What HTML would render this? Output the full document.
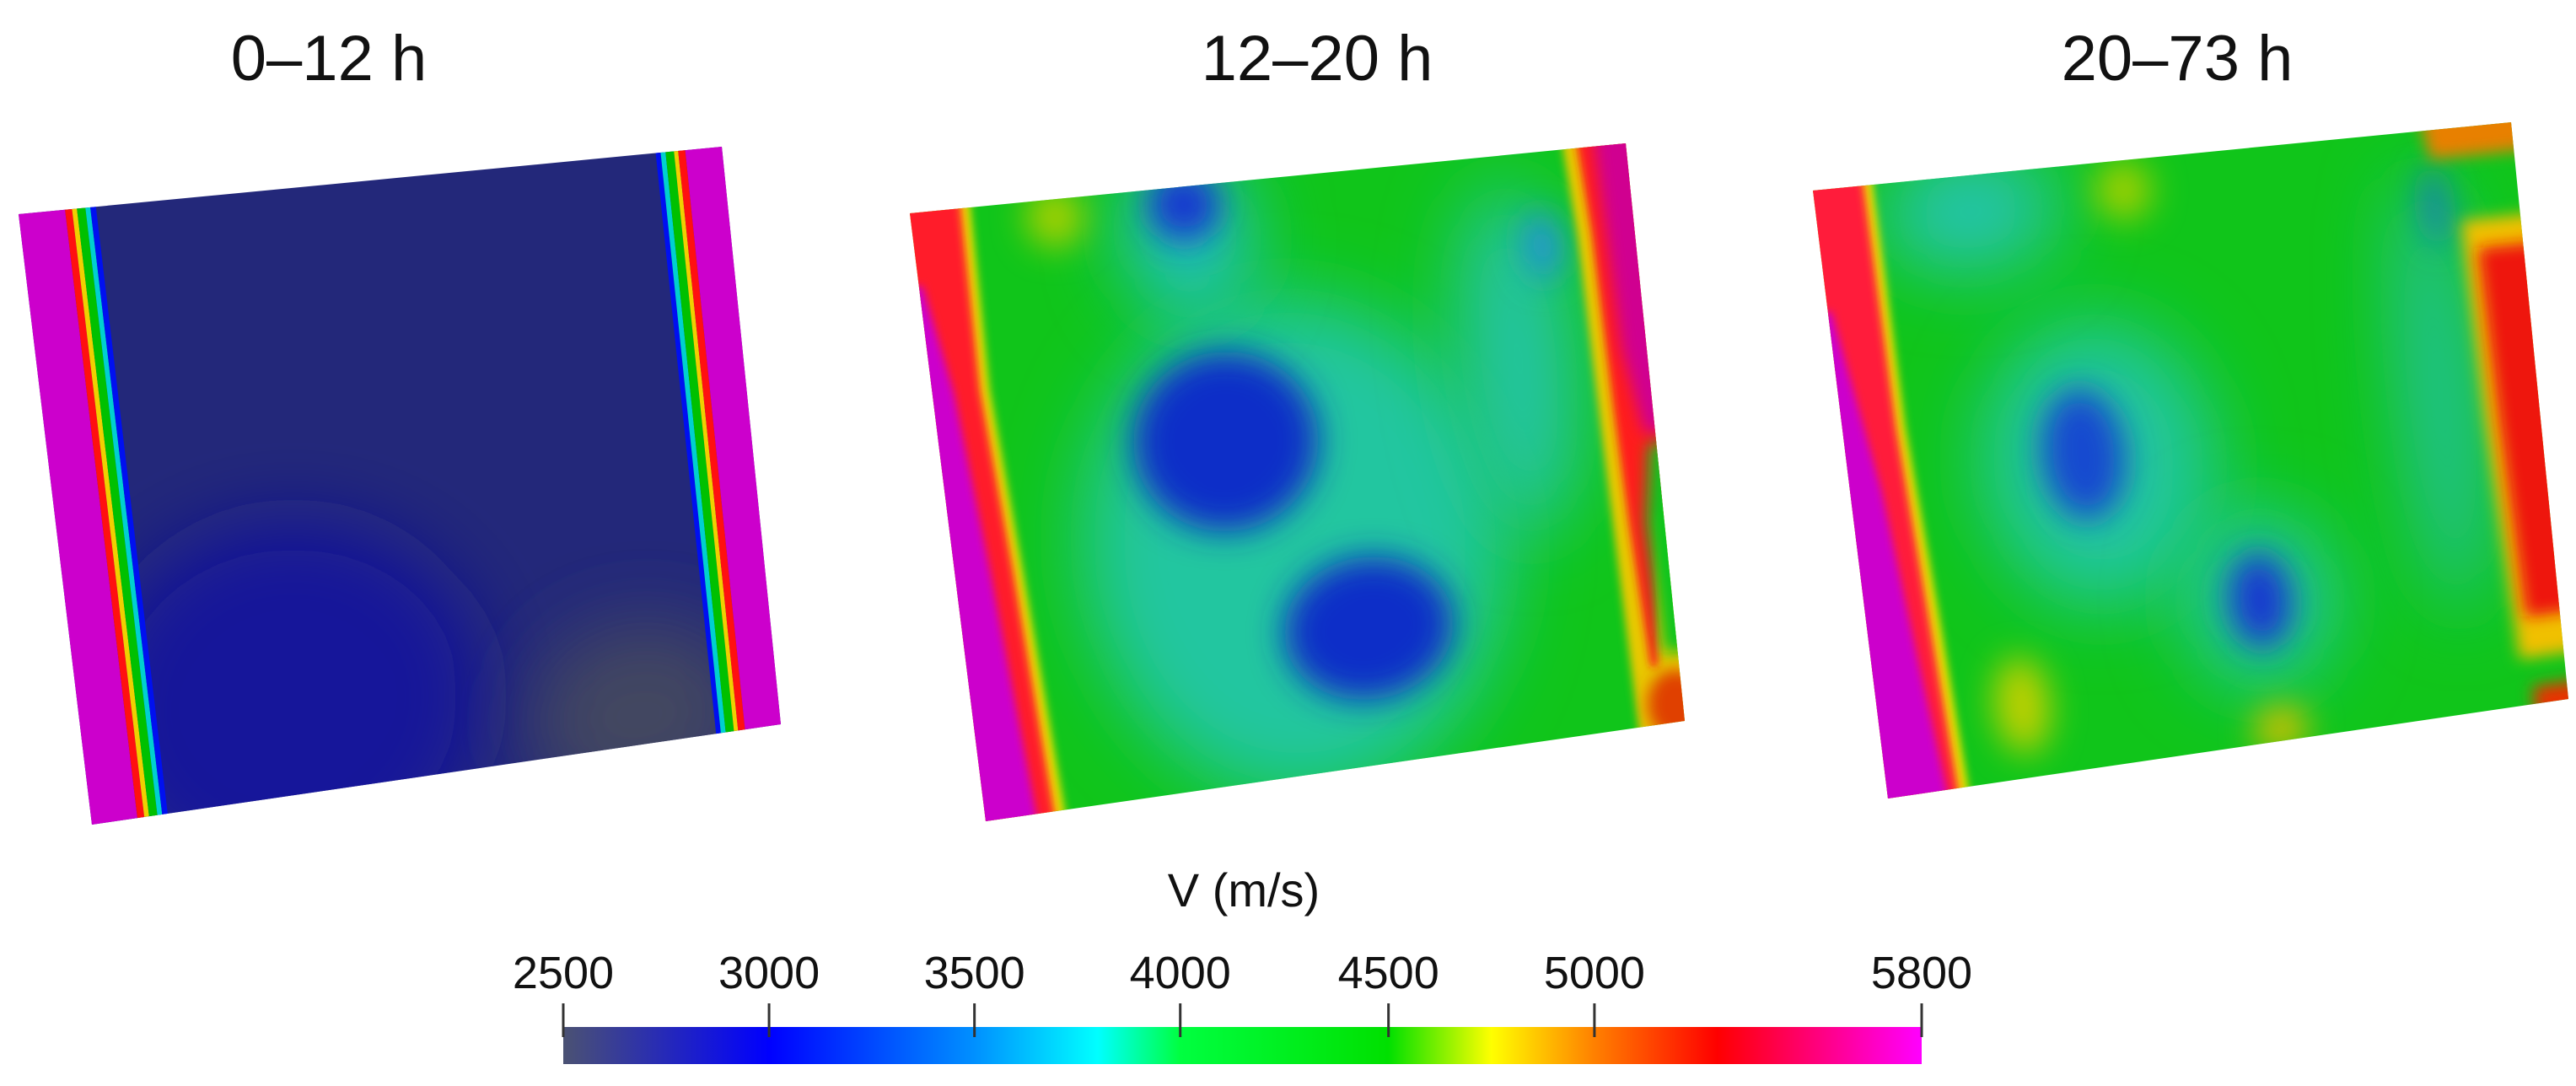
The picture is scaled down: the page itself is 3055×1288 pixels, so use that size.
<!DOCTYPE html>
<html><head><meta charset="utf-8"><style>
html,body{margin:0;padding:0;background:#fff;}
svg{display:block;font-family:"Liberation Sans","DejaVu Sans",sans-serif;}
</style></head><body>
<svg id="fig" width="3055" height="1288" viewBox="0 0 3055 1288">
<defs>
<filter id="bH" filterUnits="userSpaceOnUse" x="-200" y="-200" width="3455" height="1688"><feGaussianBlur stdDeviation="45"/></filter>
<filter id="bM" filterUnits="userSpaceOnUse" x="-200" y="-200" width="3455" height="1688"><feGaussianBlur stdDeviation="20"/></filter>
<filter id="bR" filterUnits="userSpaceOnUse" x="-200" y="-200" width="3455" height="1688"><feGaussianBlur stdDeviation="9"/></filter>
<filter id="bS" filterUnits="userSpaceOnUse" x="-200" y="-200" width="3455" height="1688"><feGaussianBlur stdDeviation="5"/></filter>
<linearGradient id="cbar" x1="0" x2="1" y1="0" y2="0"></linearGradient>
<clipPath id="clip0"><polygon id="q0"/></clipPath>
<clipPath id="clip1"><polygon id="q1"/></clipPath>
<clipPath id="clip2"><polygon id="q2"/></clipPath>
</defs>

<text x="390" y="95" font-size="76" text-anchor="middle" fill="#111">0–12 h</text>
<text x="1562" y="95" font-size="76" text-anchor="middle" fill="#111">12–20 h</text>
<text x="2582" y="95" font-size="76" text-anchor="middle" fill="#111">20–73 h</text>

<g id="p0" clip-path="url(#clip0)"></g>
<g id="p1" clip-path="url(#clip1)"></g>
<g id="p2" clip-path="url(#clip2)"></g>

<g id="cb">
<text x="1475" y="1075" font-size="56" text-anchor="middle" fill="#111">V (m/s)</text>
<rect x="668" y="1218" width="1611" height="44" fill="url(#cbar)"/>
</g>
</svg>
<script>
const tickValues = [2500, 3000, 3500, 4000, 4500, 5000, 5800];
const tickLabels = ["2500", "3000", "3500", "4000", "4500", "5000", "5800"];
const stopValues = [2500, 3000, 3500, 3800, 4000, 4500, 4750, 5000, 5300, 5800];
const stopColors = ["#4b5273", "#0000ff", "#0090ff", "#00ffff", "#00ff40", "#00e000", "#ffff00", "#ff8000", "#ff0000", "#ff00ff"];
const ns = "http://www.w3.org/2000/svg";

/* ---------- panels (bilinear quads) ---------- */
const quads = [
  [[22,254],[856,174],[926,859],[109,978]],
  [[1079,253],[1928,170],[1998,855],[1169,974]],
  [[2150,226],[2978,145],[3046,829],[2239,947]]
];
function mapUV(q, u, v) {
  const x = (1-u)*(1-v)*q[0][0] + u*(1-v)*q[1][0] + u*v*q[2][0] + (1-u)*v*q[3][0];
  const y = (1-u)*(1-v)*q[0][1] + u*(1-v)*q[1][1] + u*v*q[2][1] + (1-u)*v*q[3][1];
  return [x, y];
}
function polyPts(q, pts) {
  return pts.map(p => mapUV(q, p[0], p[1]).map(n => n.toFixed(1)).join(',')).join(' ');
}
function addPoly(g, q, pts, color, filt, name) {
  const p = document.createElementNS(ns, 'polygon');
  p.setAttribute('points', polyPts(q, pts));
  p.setAttribute('fill', color);
  if (filt) p.setAttribute('filter', 'url(#' + filt + ')');
  
  
  g.appendChild(p);
}
function ell(cx, cy, rx, ry) {
  const a = [];
  for (let i = 0; i < 48; i++) { const t = i / 48 * Math.PI * 2; a.push([cx + rx*Math.cos(t), cy + ry*Math.sin(t)]); }
  return a;
}
function strip(rows) {
  const L = rows.map(r => [r[1], r[0]]);
  const R = rows.slice().reverse().map(r => [r[2], r[0]]);
  return L.concat(R);
}
quads.forEach((q, i) => {
  document.getElementById('q' + i).setAttribute('points', polyPts(q, [[0,0],[1,0],[1,1],[0,1]]));
});
const full = [[-0.05,-0.05],[1.05,-0.05],[1.05,1.05],[-0.05,1.05]];

/* Panel 1 */
(function(){
  const g = document.getElementById('p0'), q = quads[0];
  addPoly(g, q, full, '#23287a', null, 'panel-background');
  addPoly(g, q, ell(0.3, 0.85, 0.28, 0.3), '#16199a', 'bH', 'dark-blue-region');
  addPoly(g, q, ell(0.8, 0.95, 0.16, 0.16), '#424660', 'bH', 'grey-region');
  const bands = [[-0.1,0.066,'#cc00cc'],[0.066,0.076,'#ff1010'],[0.076,0.083,'#f0d000'],[0.083,0.095,'#00c000'],[0.095,0.102,'#00d0d0'],[0.102,0.110,'#0010f0'],
                 [0.906,0.913,'#0010f0'],[0.913,0.920,'#00d0d0'],[0.920,0.932,'#00c000'],[0.932,0.938,'#f0d000'],[0.938,0.948,'#ff1010'],[0.948,1.1,'#cc00cc']];
  bands.forEach(b => addPoly(g, q, strip([[-0.05,b[0],b[1]],[1.05,b[0],b[1]]]), b[2], null, 'edge-band'));
})();

/* Panel 2 */
(function(){
  const g = document.getElementById('p1'), q = quads[1];
  addPoly(g, q, full, '#10c51a', null, 'panel-background');
  addPoly(g, q, ell(0.48, 0.62, 0.30, 0.42), '#20c6a0', 'bH', 'cyan-halo');
  addPoly(g, q, ell(0.38, 0.08, 0.09, 0.14), '#20c0c0', 'bH', 'cyan-top');
  addPoly(g, q, ell(0.82, 0.35, 0.08, 0.3), '#28c4a8', 'bH', 'cyan-right');
  addPoly(g, q, ell(0.40, 0.43, 0.13, 0.15), '#0f2ec8', 'bM', 'blue-blob-1');
  addPoly(g, q, ell(0.57, 0.77, 0.12, 0.12), '#0f2ec8', 'bM', 'blue-blob-2');
  addPoly(g, q, ell(0.38, 0.03, 0.05, 0.06), '#1838d0', 'bM', 'blue-top');
  addPoly(g, q, ell(0.20, 0.03, 0.04, 0.05), '#a8d000', 'bM', 'yellow-top');
  addPoly(g, q, ell(0.87, 0.16, 0.025, 0.06), '#2090e0', 'bM', 'blue-right');
  addPoly(g, q, strip([[-0.05,-0.1,0.085],[0.3,-0.1,0.08],[0.6,-0.1,0.095],[1.05,-0.1,0.115]]), '#f0e000', 'bS', 'left-yellow');
  addPoly(g, q, strip([[-0.05,-0.1,0.072],[0.3,-0.1,0.067],[0.6,-0.1,0.082],[1.05,-0.1,0.1]]), '#ff1a2a', 'bS', 'left-red');
  addPoly(g, q, strip([[0.12,-0.1,0.005],[0.3,-0.1,0.03],[0.6,-0.1,0.05],[1.05,-0.1,0.075]]), '#cc00cc', 'bS', 'left-magenta');
  addPoly(g, q, strip([[-0.05,0.91,1.1],[0.15,0.92,1.1],[0.5,0.925,1.1],[1.05,0.935,1.1]]), '#e8c800', 'bS', 'right-yellow');
  addPoly(g, q, strip([[-0.05,0.93,1.1],[0.15,0.94,1.1],[0.45,0.945,1.1],[0.65,0.95,0.99],[0.9,0.96,0.97]]), '#ff1a1a', 'bS', 'right-red');
  addPoly(g, q, strip([[-0.05,0.955,1.1],[0.35,0.965,1.1],[0.5,0.985,1.1]]), '#d00090', 'bR', 'right-magenta');
  addPoly(g, q, strip([[0.52,0.99,1.1],[0.65,0.975,1.1],[0.88,0.98,1.1]]), '#10c51a', 'bR', 'right-green');
  addPoly(g, q, ell(0.99, 0.97, 0.04, 0.06), '#e04000', 'bR', 'right-bottom-red');
})();

/* Panel 3 */
(function(){
  const g = document.getElementById('p2'), q = quads[2];
  addPoly(g, q, full, '#10c51a', null, 'panel-background');
  addPoly(g, q, ell(0.36, 0.50, 0.17, 0.24), '#20c6a0', 'bH', 'cyan-halo-1');
  addPoly(g, q, ell(0.57, 0.76, 0.11, 0.15), '#20c6a0', 'bH', 'cyan-halo-2');
  addPoly(g, q, ell(0.22, 0.06, 0.13, 0.10), '#28c4b0', 'bH', 'cyan-top');
  addPoly(g, q, ell(0.86, 0.45, 0.05, 0.38), '#28c0a8', 'bH', 'cyan-right');
  addPoly(g, q, ell(0.34, 0.48, 0.06, 0.11), '#1848d0', 'bM', 'blue-blob-1');
  addPoly(g, q, ell(0.57, 0.76, 0.045, 0.08), '#1838d0', 'bM', 'blue-blob-2');
  addPoly(g, q, ell(0.88, 0.13, 0.015, 0.07), '#1870d0', 'bM', 'blue-right');
  addPoly(g, q, ell(0.44, 0.05, 0.04, 0.05), '#a0d000', 'bM', 'yellow-top');
  addPoly(g, q, ell(0.21, 0.88, 0.04, 0.08), '#c0d000', 'bM', 'yellow-bottom-left');
  addPoly(g, q, ell(0.58, 0.98, 0.04, 0.04), '#d0c000', 'bM', 'yellow-bottom');
  addPoly(g, q, strip([[-0.05,-0.1,0.085],[0.4,-0.1,0.09],[0.7,-0.1,0.105],[1.05,-0.1,0.12]]), '#f0e000', 'bS', 'left-yellow');
  addPoly(g, q, strip([[-0.05,-0.1,0.072],[0.4,-0.1,0.077],[0.7,-0.1,0.09],[1.05,-0.1,0.105]]), '#ff1a3a', 'bS', 'left-red');
  addPoly(g, q, strip([[0.2,-0.1,0.005],[0.5,-0.1,0.045],[0.75,-0.1,0.065],[1.05,-0.1,0.09]]), '#cc00cc', 'bS', 'left-magenta');
  addPoly(g, q, strip([[0.16,0.915,1.1],[0.5,0.92,1.1],[0.92,0.935,1.1]]), '#f0c000', 'bR', 'right-orange');
  addPoly(g, q, strip([[0.21,0.935,1.1],[0.5,0.94,1.1],[0.85,0.95,1.1]]), '#ee1410', 'bR', 'right-red');
  addPoly(g, q, strip([[0.97,0.95,1.1],[1.1,0.95,1.1]]), '#e83000', 'bR', 'bottom-right-red');
  addPoly(g, q, strip([[-0.1,0.86,1.1],[0.05,0.88,1.1]]), '#e88000', 'bR', 'top-right-orange');
})();

/* ---------- colorbar ---------- */
const x0 = 668, x1 = 2279;
const axisPos = [0, 0.1515, 0.3027, 0.4542, 0.6075, 0.7591, 1.0];
function xScale(v) {
  for (let i = 0; i < tickValues.length - 1; i++) {
    if (v <= tickValues[i + 1]) {
      const t = (v - tickValues[i]) / (tickValues[i + 1] - tickValues[i]);
      return axisPos[i] + t * (axisPos[i + 1] - axisPos[i]);
    }
  }
  return 1;
}
const grad = document.getElementById('cbar');
stopValues.forEach((v, i) => {
  const s = document.createElementNS(ns, 'stop');
  s.setAttribute('offset', xScale(v));
  s.setAttribute('stop-color', stopColors[i]);
  grad.appendChild(s);
});
const cb = document.getElementById('cb');
tickValues.forEach((v, i) => {
  const x = x0 + xScale(v) * (x1 - x0);
  const l = document.createElementNS(ns, 'line');
  l.setAttribute('x1', x); l.setAttribute('x2', x);
  l.setAttribute('y1', 1190); l.setAttribute('y2', 1230);
  l.setAttribute('stroke', '#333'); l.setAttribute('stroke-width', 3);
  
  
  cb.appendChild(l);
  const t = document.createElementNS(ns, 'text');
  t.setAttribute('x', x); t.setAttribute('y', 1172);
  t.setAttribute('font-size', 54); t.setAttribute('text-anchor', 'middle');
  t.setAttribute('fill', '#111');
  t.textContent = tickLabels[i];
  
  
  cb.appendChild(t);
});
</script>
</body></html>
